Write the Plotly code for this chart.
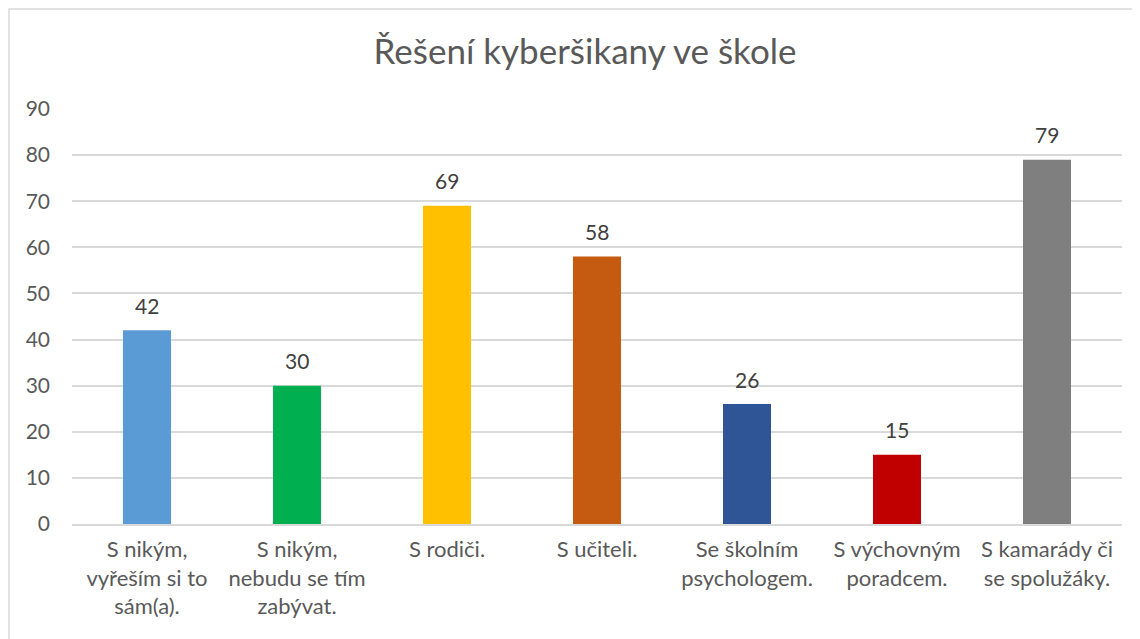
import plotly.graph_objects as go

categories = ["S nikým,<br>vyřeším si to<br>sám(a).",
              "S nikým,<br>nebudu se tím<br>zabývat.",
              "S rodiči.",
              "S učiteli.",
              "Se školním<br>psychologem.",
              "S výchovným<br>poradcem.",
              "S kamarády či<br>se spolužáky."]
values = [42, 30, 69, 58, 26, 15, 79]
colors = ["#5B9BD5", "#00B050", "#FFC000", "#C55A11", "#2F5597", "#C00000", "#7F7F7F"]
y_ticks = [0, 10, 20, 30, 40, 50, 60, 70, 80, 90]

# page has an 8px body margin, so the figure is a bit smaller
W, H = 1132, 631
ml, mr, mt, mb = 64, 18, 101, 115
pw = W - ml - mr
ph = H - mt - mb

fig = go.Figure(go.Bar(x=categories, y=values, marker_color=colors,
                       marker_line_width=0, hoverinfo="skip"))

for c, v in zip(categories, values):
    fig.add_annotation(x=c, y=v, text=str(v), showarrow=False, yshift=25,
                       font=dict(size=21, color="#404040"))

# light border around the chart area (right and bottom run off the page)
fig.add_shape(type="rect", xref="paper", yref="paper",
              x0=(1 - ml) / pw, x1=(1160 - ml) / pw,
              y0=(H - mb - 660) / ph, y1=(H - mb - 1) / ph,
              line=dict(color="#D9D9D9", width=1.5), fillcolor="rgba(0,0,0,0)",
              layer="below")

fig.update_layout(
    width=W, height=H,
    margin=dict(l=ml, r=mr, t=mt, b=mb),
    paper_bgcolor="white", plot_bgcolor="white",
    font=dict(family="Lato", color="#595959", size=21),
    title=dict(text="Řešení kyberšikany ve škole", x=577 / W, xanchor="center",
               y=1 - 44 / H, yanchor="middle",
               font=dict(size=35, color="#595959")),
    bargap=0.68,
    showlegend=False,
)
fig.update_xaxes(showgrid=False, showline=True, linecolor="#D9D9D9", linewidth=1.5,
                 ticks="", ticklabelstandoff=5, tickfont=dict(size=22, color="#595959"))
fig.update_yaxes(range=[0, 90], tickvals=y_ticks, showgrid=True, gridcolor="#D9D9D9",
                 gridwidth=1.5, zeroline=False, showline=False, ticks="",
                 ticklabelstandoff=21, tickfont=dict(size=21, color="#595959"))

fig.write_html("out.html")
